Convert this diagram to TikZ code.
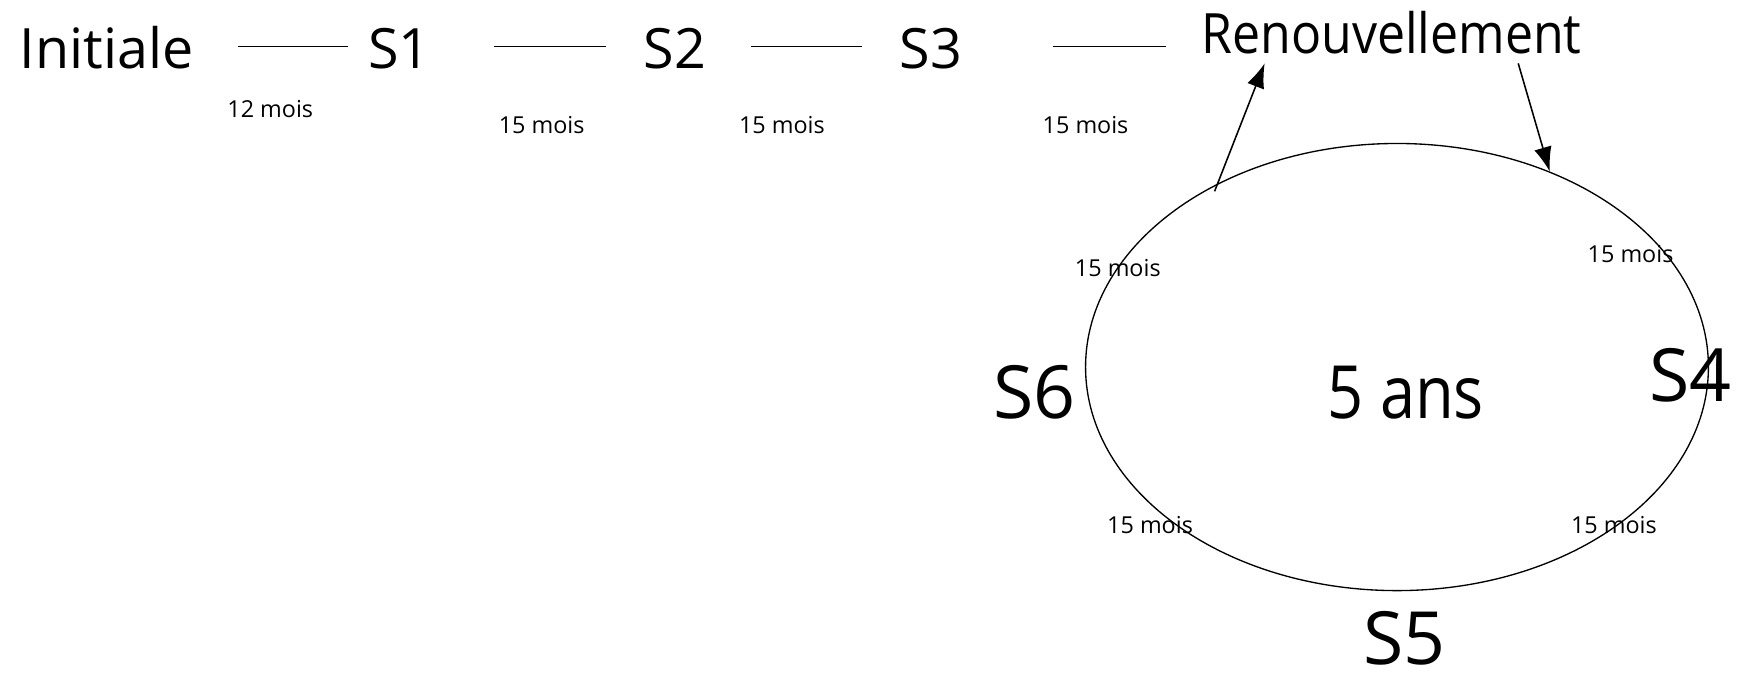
\documentclass[tikz,border=0pt]{standalone}
\usepackage{fontspec}
\setmainfont{Open Sans}
\usetikzlibrary{shapes.geometric,arrows.meta}
\begin{document}
\begin{tikzpicture}[x=0.5pt,y=-0.5pt,
  big/.style={inner sep=0pt,anchor=base,font=\fontsize{25}{30}\selectfont},
  huge/.style={inner sep=0pt,anchor=base,font=\fontsize{33}{40}\selectfont},
  small/.style={inner sep=0pt,anchor=base,font=\fontsize{10.5}{12}\selectfont},
  link/.style={line width=0.6pt},
  arr/.style={line width=0.7pt,-{Latex[length=11pt,width=8pt]}}]
\useasboundingbox (0,0) rectangle (1568,610);
% top row
\node[big] (init) at (96,62) {Initiale};
\node[big] (s1) at (359,62) {S1};
\node[big] (s2) at (607,62) {S2};
\node[big] (s3) at (837,62) {S3};
\node[big,font=\fontsize{25}{30}\selectfont\addfontfeatures{FakeStretch=0.9}] (renew) at (1251,48) {Renouvellement};
\node[small] (m1) at (243,106) {12 mois};
\node[small] (m2) at (487,120) {15 mois};
\node[small] (m3) at (703,120) {15 mois};
\node[small] (m4) at (976,120) {15 mois};
\coordinate (a1) at (214,42); \coordinate (b1) at (313,42);
\coordinate (a2) at (444,42); \coordinate (b2) at (545,42);
\coordinate (a3) at (675,42); \coordinate (b3) at (775,42);
\coordinate (a4) at (947,42); \coordinate (b4) at (1048,42);
\draw[link] (a1) -- (b1);
\draw[link] (a2) -- (b2);
\draw[link] (a3) -- (b3);
\draw[link] (a4) -- (b4);
% cycle
\node[draw,ellipse,line width=0.6pt,inner sep=0pt,minimum width=280pt,minimum height=201pt] (cycle) at (1256,330) {};
\node[huge,font=\fontsize{33}{40}\selectfont\addfontfeatures{FakeStretch=0.86}] (ans) at (1264,376) {5 ans};
\node[huge] (s6) at (930,376) {S6};
\node[huge] (s4) at (1520,361) {S4};
\node[huge] (s5) at (1263,597) {S5};
\node[small] (c1) at (1005,249) {15 mois};
\node[small] (c2) at (1466,236) {15 mois};
\node[small] (c3) at (1034,480) {15 mois};
\node[small] (c4) at (1451,480) {15 mois};
\coordinate (rl) at (1137,57);
\coordinate (rr) at (1365,57);
\coordinate (el) at (1092,172);
\draw[arr] (el) -- (rl);
\draw[arr] (rr) -- (cycle.52);
\end{tikzpicture}
\end{document}
